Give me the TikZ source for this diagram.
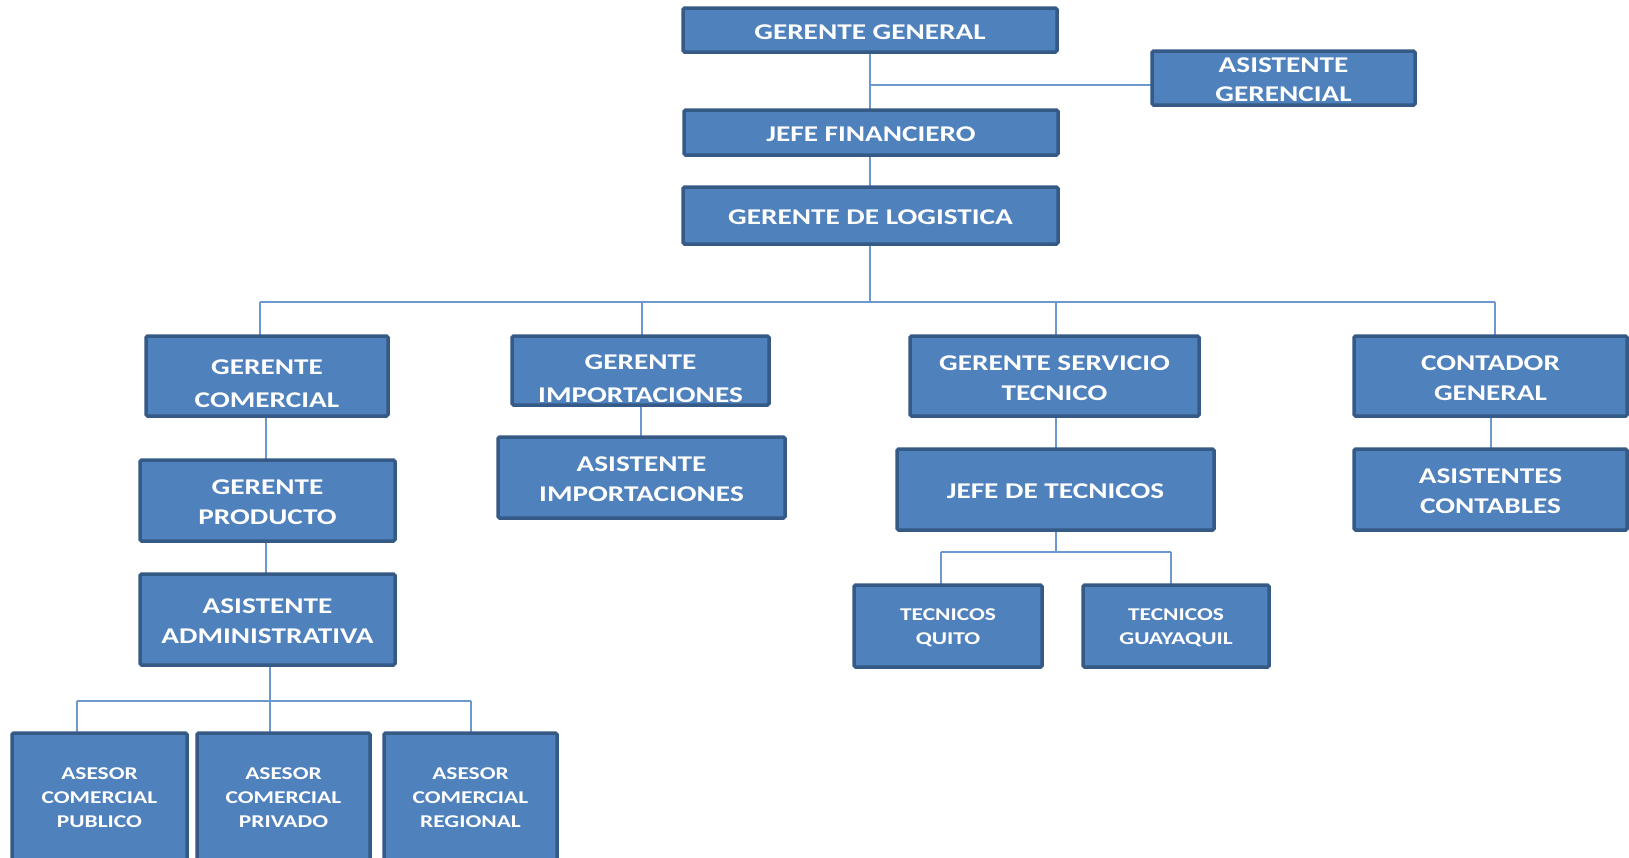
\documentclass[tikz,border=0pt]{standalone}
\usepackage{fontspec}
\newfontfamily\orgfont{Carlito}[FakeStretch=1.3]
\usetikzlibrary{fit}
\definecolor{boxfill}{RGB}{79,129,189}
\definecolor{boxedge}{RGB}{54,90,134}
\definecolor{linkcol}{RGB}{108,152,206}
\tikzset{
  orgbox/.style={draw=boxedge, fill=boxfill, line width=3.5pt, rounded corners=1.5pt, inner sep=0pt},
  orgtext/.style={text=white, align=center, inner sep=0pt, yshift=-2pt, font=\orgfont\bfseries\fontsize{22.5}{30}\selectfont},
  orgwide/.style={orgtext, font=\orgfont\bfseries\fontsize{22.5}{33}\selectfont},
  orgtight/.style={orgtext, font=\orgfont\bfseries\fontsize{22.5}{29}\selectfont},
  orgsmall/.style={orgtext, font=\orgfont\bfseries\fontsize{18}{24}\selectfont},
  link/.style={draw=linkcol, line width=2.4pt}
}
\begin{document}
\begin{tikzpicture}[x=1pt, y=-1pt]
\useasboundingbox (0,0) rectangle (1629,857);
\fill[white] (0,0) rectangle (1629,857);
\clip (0,0) rectangle (1629,857);

% junction points of the connector lines
\coordinate (agj) at (870,85);
\coordinate (busL) at (260,302);
\coordinate (busR) at (1495,302);
\coordinate (busC) at (870,302);
\coordinate (dropGI) at (642,302);
\coordinate (dropGST) at (1056,302);
\coordinate (aaL) at (77,701);
\coordinate (aaC) at (270,701);
\coordinate (aaR) at (471,701);
\coordinate (jtL) at (941,552);
\coordinate (jtC) at (1056,552);
\coordinate (jtR) at (1171,552);

% connectors (drawn first, boxes cover their ends)
\draw[link] (870,52) coordinate (ggs) -- (870,110) coordinate (jfn);
\draw[link] (agj) -- (1152,85) coordinate (agw);
\draw[link] (870,155) coordinate (jfs) -- (870,187) coordinate (gln);
\draw[link] (870,244) coordinate (gls) -- (busC);
\draw[link] (busL) -- (busR);
\draw[link] (busL) -- (busL |- 0,336);
\draw[link] (dropGI) -- (dropGI |- 0,336);
\draw[link] (dropGST) -- (dropGST |- 0,336);
\draw[link] (busR) -- (busR |- 0,336);
\draw[link] (266,416) -- (266,460);
\draw[link] (266,541) -- (266,574);
\draw[link] (270,665) -- (aaC);
\draw[link] (aaL) -- (aaR);
\draw[link] (aaL) -- (aaL |- 0,733);
\draw[link] (aaC) -- (aaC |- 0,733);
\draw[link] (aaR) -- (aaR |- 0,733);
\draw[link] (641,405) -- (641,437);
\draw[link] (1056,416) -- (1056,449);
\draw[link] (1056,530) -- (jtC);
\draw[link] (jtL) -- (jtR);
\draw[link] (jtL) -- (jtL |- 0,585);
\draw[link] (jtR) -- (jtR |- 0,585);
\draw[link] (1491,416) -- (1491,449);

% boxes
\node[orgbox, fit={(683,8) (1057,52)}] (gg) {};
\node[orgbox, fit={(1152,51) (1415,105)}] (ag) {};
\node[orgbox, fit={(684,110) (1058,155)}] (jf) {};
\node[orgbox, fit={(683,187) (1058,244)}] (gl) {};
\node[orgbox, fit={(146,336) (388,416)}] (gc) {};
\node[orgbox, fit={(512,336) (769,405)}] (gi) {};
\node[orgbox, fit={(910,336) (1199,416)}] (gst) {};
\node[orgbox, fit={(1354,336) (1627,416)}] (cg) {};
\node[orgbox, fit={(140,460) (395,541)}] (gp) {};
\node[orgbox, fit={(498,437) (785,518)}] (ai) {};
\node[orgbox, fit={(897,449) (1214,530)}] (jt) {};
\node[orgbox, fit={(1354,449) (1627,530)}] (ac) {};
\node[orgbox, fit={(140,574) (395,665)}] (aa) {};
\node[orgbox, fit={(854,585) (1042,667)}] (tq) {};
\node[orgbox, fit={(1083,585) (1269,667)}] (tg) {};
\node[orgbox, fit={(12,733) (187,862)}] (as1) {};
\node[orgbox, fit={(197,733) (370,862)}] (as2) {};
\node[orgbox, fit={(384,733) (557,862)}] (as3) {};

% labels
\node[orgtext] (tgg) at (gg) {GERENTE GENERAL};
\node[orgtight] (tag) at (ag) {ASISTENTE\\GERENCIAL};
\node[orgtext] (tjf) at (jf) {JEFE FINANCIERO};
\node[orgtext] (tgl) at (gl) {GERENTE DE LOGISTICA};
\node[orgwide, yshift=-6pt] (tgc) at (gc) {GERENTE\\COMERCIAL};
\node[orgwide, yshift=-6pt] (tgi) at (gi) {GERENTE\\IMPORTACIONES};
\node[orgtext] (tgst) at (gst) {GERENTE SERVICIO\\TECNICO};
\node[orgtext] (tcg) at (cg) {CONTADOR\\GENERAL};
\node[orgtext] (tgp) at (gp) {GERENTE\\PRODUCTO};
\node[orgtext] (tai) at (ai) {ASISTENTE\\IMPORTACIONES};
\node[orgtext] (tjt) at (jt) {JEFE DE TECNICOS};
\node[orgtext] (tac) at (ac) {ASISTENTES\\CONTABLES};
\node[orgtext] (taa) at (aa) {ASISTENTE\\ADMINISTRATIVA};
\node[orgsmall] (ttq) at (tq) {TECNICOS\\QUITO};
\node[orgsmall] (ttg) at (tg) {TECNICOS\\GUAYAQUIL};
\node[orgsmall] (tas1) at (99.5,796) {ASESOR\\COMERCIAL\\PUBLICO};
\node[orgsmall] (tas2) at (283.5,796) {ASESOR\\COMERCIAL\\PRIVADO};
\node[orgsmall] (tas3) at (470.5,796) {ASESOR\\COMERCIAL\\REGIONAL};
\end{tikzpicture}
\end{document}
